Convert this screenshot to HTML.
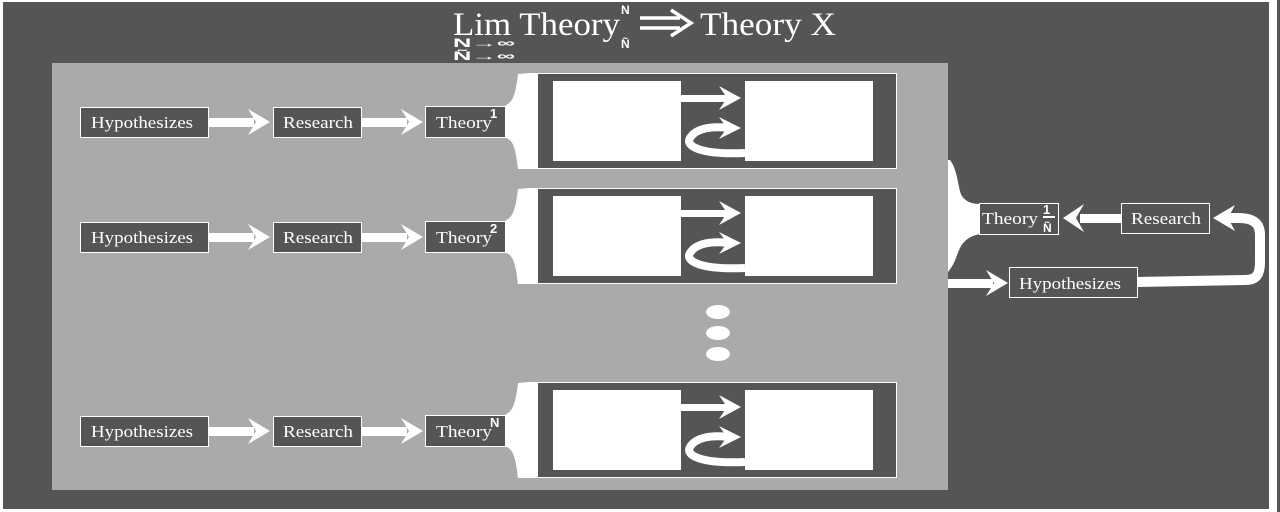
<!DOCTYPE html>
<html><head><style>
html,body{margin:0;padding:0;background:#fff;}
svg{display:block;}
text{font-family:"Liberation Serif",serif;fill:#fff;}
text.s{font-family:"Liberation Sans",sans-serif;font-weight:bold;}
</style></head><body>
<svg width="1280" height="512" viewBox="0 0 1280 512" xmlns="http://www.w3.org/2000/svg">
<defs>
<g id="row">
  <rect x="80.5" y="107.5" width="128" height="30" fill="#555" stroke="#fff" stroke-width="1"/>
  <text x="91" y="128" font-size="17" textLength="102" lengthAdjust="spacingAndGlyphs">Hypothesizes</text>
  <rect x="209" y="118" width="45" height="9" fill="#fff"/>
  <path d="M248,109 L270,122 L248,135 L256,122 Z" fill="#fff"/>
  <rect x="273.5" y="107.5" width="88" height="30" fill="#555" stroke="#fff" stroke-width="1"/>
  <text x="283" y="128" font-size="17" textLength="70" lengthAdjust="spacingAndGlyphs">Research</text>
  <rect x="362" y="118" width="45" height="9" fill="#fff"/>
  <path d="M401,109 L423,122 L401,135 L409,122 Z" fill="#fff"/>
  <rect x="425.5" y="106.5" width="80" height="31" fill="#555" stroke="#fff" stroke-width="1"/>
  <text x="436" y="128" font-size="17" textLength="56" lengthAdjust="spacingAndGlyphs">Theory</text>
  <path d="M506,105 C514,102 516,90 518,74 L530,73 L530,169 L518,169 C516,152 514,140 506,138 Z" fill="#fff"/>
  <rect x="528.5" y="73.5" width="368" height="95" fill="#555" stroke="#fff" stroke-width="1"/>
  <rect x="528" y="73" width="10" height="96" fill="#fff"/>
  <rect x="553" y="81" width="128" height="80" fill="#fff"/>
  <rect x="745" y="81" width="128" height="80" fill="#fff"/>
  <rect x="681" y="95" width="50" height="7" fill="#fff"/>
  <path d="M719,86 L741,98 L719,110 L727,98 Z" fill="#fff"/>
  <path d="M745,153 C700,155 685,146 690,138 C696,128 712,126 728,128" fill="none" stroke="#fff" stroke-width="8"/>
  <path d="M719,117 L741,128 L719,139 L727,128 Z" fill="#fff"/>
</g>
</defs>
<rect x="0" y="0" width="1280" height="512" fill="#fff"/>
<rect x="3" y="2" width="1266" height="507" fill="#555"/>
<rect x="1277" y="0" width="3" height="512" fill="#555"/>
<text x="453" y="35" font-size="33" textLength="167" lengthAdjust="spacingAndGlyphs">Lim Theory</text>
<text class="s" x="621" y="14" font-size="12">N</text>
<text class="s" x="621" y="48" font-size="12">Ñ</text>
<text class="s" x="453" y="47" font-size="12" textLength="62" lengthAdjust="spacingAndGlyphs">N→∞</text>
<text class="s" x="453" y="60" font-size="12" textLength="62" lengthAdjust="spacingAndGlyphs">Ñ→∞</text>
<path d="M640,18 L680,18 M640,28 L680,28" stroke="#fff" stroke-width="3.5"/>
<path d="M671,10 L691,23 L671,36" fill="none" stroke="#fff" stroke-width="3.5"/>
<text x="700" y="35" font-size="33" textLength="136" lengthAdjust="spacingAndGlyphs">Theory X</text>
<rect x="52" y="63" width="896" height="427" fill="#aaa"/>
<use href="#row"/>
<use href="#row" y="115"/>
<use href="#row" y="309"/>
<text class="s" x="490" y="118" font-size="13">1</text>
<text class="s" x="490" y="233" font-size="13">2</text>
<text class="s" x="490" y="427" font-size="13">N</text>
<ellipse cx="718" cy="312" rx="12" ry="7" fill="#fff"/>
<ellipse cx="718" cy="333" rx="12" ry="7" fill="#fff"/>
<ellipse cx="718" cy="354" rx="12" ry="7" fill="#fff"/>
<path d="M948,160 L950,160 C958,170 958,190 962,196 C966,202 972,204 980,204 L980,234 C970,236 964,240 960,248 C956,256 956,262 948,272 Z" fill="#fff"/>
<rect x="979.5" y="203.5" width="79" height="31" fill="#555" stroke="#fff" stroke-width="1"/>
<text x="982" y="224" font-size="17" textLength="56" lengthAdjust="spacingAndGlyphs">Theory</text>
<text class="s" x="1043" y="214" font-size="13">1</text>
<rect x="1043" y="216" width="12" height="2" fill="#fff"/>
<text class="s" x="1043" y="232" font-size="12">Ñ</text>
<rect x="1080" y="214" width="41" height="9" fill="#fff"/>
<path d="M1084,204 L1063,218 L1084,232 L1076,218 Z" fill="#fff"/>
<rect x="1121.5" y="203.5" width="88" height="30" fill="#555" stroke="#fff" stroke-width="1"/>
<text x="1131" y="224" font-size="17" textLength="70" lengthAdjust="spacingAndGlyphs">Research</text>
<rect x="948" y="279" width="45" height="9" fill="#fff"/>
<path d="M986,270 L1008,283 L986,296 L994,283 Z" fill="#fff"/>
<rect x="1009.5" y="267.5" width="128" height="30" fill="#555" stroke="#fff" stroke-width="1"/>
<text x="1019" y="289" font-size="17" textLength="102" lengthAdjust="spacingAndGlyphs">Hypothesizes</text>
<path d="M1138,282 L1245,280 C1257,280 1260,274 1260,262 L1260,235 C1260,222 1252,218 1238,218 L1228,218" fill="none" stroke="#fff" stroke-width="10"/>
<path d="M1235,205 L1213,218 L1235,231 L1228,218 Z" fill="#fff"/>
</svg>
</body></html>
